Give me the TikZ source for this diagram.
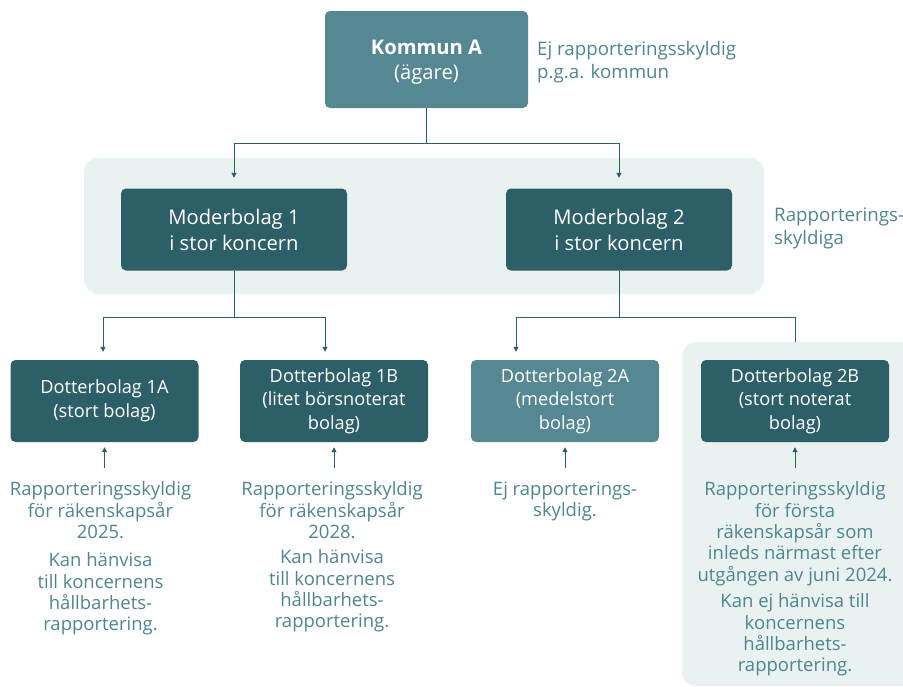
\documentclass[tikz,border=0pt]{standalone}
\usepackage{fontspec}
\setmainfont{Open Sans}
\usetikzlibrary{arrows.meta}
\definecolor{dark}{HTML}{2D5F68}
\definecolor{mid}{HTML}{558892}
\definecolor{pale}{HTML}{E9F2F1}
\definecolor{tealtxt}{HTML}{4D8690}
\begin{document}
\begin{tikzpicture}[x=1pt,y=-1pt,
  box/.style={rounded corners=5pt, fill=dark, text=white, align=center, inner sep=0pt,
    font=\fontsize{18.2}{23.5}\selectfont},
  bigbox/.style={box, minimum width=226pt, minimum height=82pt, font=\fontsize{20.2}{26}\selectfont},
  dbox/.style={box, minimum width=188pt, minimum height=82pt},
  panel/.style={fill=pale, rounded corners=14pt, inner sep=0pt},
  note/.style={text=tealtxt, inner sep=0pt, font=\fontsize{18.5}{21.4}\selectfont},
  conn/.style={draw=dark, line width=1pt},
  arr/.style={conn, -{Triangle[length=5pt,width=5pt]}}]
\useasboundingbox (0,0) rectangle (903,686);
% background panels
\node[panel, minimum width=680pt, minimum height=136pt] (grp) at (424,226) {};
\node[panel, anchor=north west, minimum width=250pt, minimum height=344pt] (rp) at (682,342) {};
% boxes
\node[box, fill=mid, minimum width=203pt, minimum height=97pt] (k) at (426.5,59.5) {};
\node[text=white, align=center, inner sep=0pt, font=\fontsize{20.2}{25}\selectfont] (kt) at ([yshift=-3pt]k.center) {\textbf{Kommun A}\\(ägare)};
\node[bigbox] (m1) at (234,229.5) {Moderbolag 1\\i stor koncern};
\node[bigbox] (m2) at (619,229.5) {Moderbolag 2\\i stor koncern};
\node[dbox] (d1a) at (104.5,401) {Dotterbolag 1A\\(stort bolag)};
\node[dbox] (d1b) at (334,401) {Dotterbolag 1B\\(litet börsnoterat\\bolag)};
\node[dbox, fill=mid] (d2a) at (565,401) {Dotterbolag 2A\\(medelstort\\bolag)};
\node[dbox] (d2b) at (795,401) {Dotterbolag 2B\\(stort noterat\\bolag)};
% side notes
\node[note, anchor=north west, align=left, font=\fontsize{18.7}{23}\selectfont] (kn) at (537,41) {Ej rapporteringsskyldig\\p.g.a. kommun};
\node[note, anchor=north west, align=left, font=\fontsize{18.7}{23}\selectfont] (gn) at (774,208) {Rapporterings-\\skyldiga};
% connectors top
\coordinate (j0) at (426.5,143);
\draw[conn] (k.south) -- (j0);
\draw[arr, shorten >=10.5pt] (j0) -| (m1.north);
\draw[arr, shorten >=10.5pt] (j0) -| (m2.north);
% connectors from Moderbolag 1
\coordinate (j1) at (234,317);
\coordinate (a1a) at ([xshift=-1.5pt]d1a.north);
\coordinate (a1b) at ([xshift=-9pt]d1b.north);
\draw[conn] (m1.south) -- (j1);
\draw[arr, shorten >=8pt] (j1) -| (a1a);
\draw[arr, shorten >=8pt] (j1) -| (a1b);
% connectors from Moderbolag 2
\coordinate (j2) at (619,317);
\coordinate (a2a) at ([xshift=-49pt]d2a.north);
\coordinate (a2b) at (d2b.north |- rp.north);
\draw[conn] (m2.south) -- (j2);
\draw[arr, shorten >=8pt] (j2) -| (a2a);
\draw[conn] (j2) -| (a2b);
% upward arrows
\foreach \n in {d1a,d1b,d2a,d2b}{
  \coordinate (u\n) at ([yshift=-26pt]\n.south);
  \draw[arr, shorten >=5pt] (u\n) -- (\n.south);
}
% notes under boxes
\node[note, anchor=north, align=center] (t1a) at (100.5,481.5) {Rapporteringsskyldig\\för räkenskapsår\\2025.};
\node[note, anchor=north, align=center] (t1a2) at (100.5,552.5) {Kan hänvisa\\till koncernens\\hållbarhets-\\rapportering.};
\node[note, anchor=north, align=center] (t1b) at (332,481.5) {Rapporteringsskyldig\\för räkenskapsår\\2028.};
\node[note, anchor=north, align=center] (t1b2) at (332,549.5) {Kan hänvisa\\till koncernens\\hållbarhets-\\rapportering.};
\node[note, anchor=north, align=center] (t2a) at (565,481.5) {Ej rapporterings-\\skyldig.};
\node[note, anchor=north, align=center] (t2b) at (795,481.5) {Rapporteringsskyldig\\för första\\räkenskapsår som\\inleds närmast efter\\utgången av juni 2024.};
\node[note, anchor=north, align=center] (t2b2) at (795,593.5) {Kan ej hänvisa till\\koncernens\\hållbarhets-\\rapportering.};
\end{tikzpicture}
\end{document}
